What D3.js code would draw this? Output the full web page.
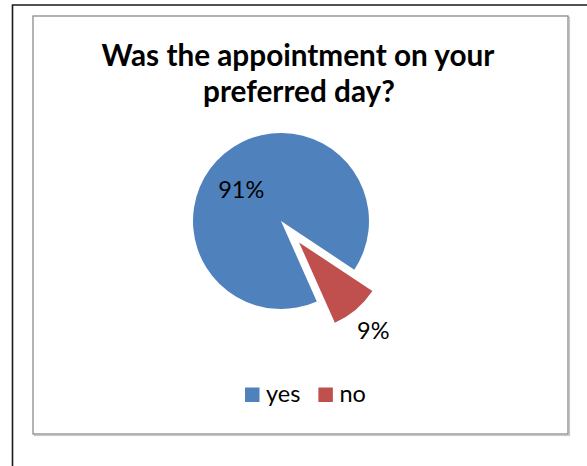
<!DOCTYPE html>
<html>
<head>
<meta charset="utf-8">
<script src="https://cdn.jsdelivr.net/npm/d3@7"></script>
<style>
  html, body { margin: 0; padding: 0; background: #ffffff; }
  svg { display: block; }
  text { font-family: Lato, "Open Sans", sans-serif; fill: #000; }
</style>
</head>
<body>
<svg id="chart" width="587" height="466"></svg>
<script>
// Survey answers
const categories = ["yes", "no"];
const values = [91, 9];
const valueLabels = ["91%", "9%"];
const titleLines = ["Was the appointment on your", "preferred day?"];
const colors = ["#4F81BD", "#C0504D"];

const svg = d3.select("#chart");
const W = 587, H = 466;

// outer page rule (left and top)
svg.append("path")
  .attr("d", `M12.5,${H} L12.5,5 L${W},5`)
  .attr("fill", "none")
  .attr("stroke", "#1a1a1a")
  .attr("stroke-width", 1.6);

// chart area frame with a soft shadow
const frame = { x: 33, y: 16, w: 535, h: 418 };
svg.append("rect")
  .attr("x", frame.x + 1.5).attr("y", frame.y + 1.5)
  .attr("width", frame.w).attr("height", frame.h)
  .attr("fill", "none").attr("stroke", "#c8c8c8").attr("stroke-width", 1.2);
svg.append("rect")
  .attr("x", frame.x).attr("y", frame.y)
  .attr("width", frame.w).attr("height", frame.h)
  .attr("fill", "#fff").attr("stroke", "#8a8a8a").attr("stroke-width", 1.3);

// title, two centred lines
const titleX = 298;
const title = svg.append("g");
const t1 = title.append("text")
  .attr("x", titleX).attr("y", 66)
  .attr("text-anchor", "middle")
  .style("font-weight", "bold").style("font-size", "24px")
  .text(titleLines[0]);
const fitSize = 24 * 393 / t1.node().getComputedTextLength();
t1.style("font-size", fitSize + "px");
title.append("text")
  .attr("x", titleX + 1).attr("y", 102)
  .attr("text-anchor", "middle")
  .style("font-weight", "bold").style("font-size", fitSize + "px")
  .text(titleLines[1]);

// pie
const cx = 281, cy = 221, radius = 88;
const startDeg = 156;
const explode = [0, 28];
const pie = d3.pie().sort(null)
  .startAngle(startDeg * Math.PI / 180)
  .endAngle(startDeg * Math.PI / 180 + 2 * Math.PI);
const arcs = pie(values);
const arc = d3.arc().innerRadius(0).outerRadius(radius);

const pieG = svg.append("g").attr("transform", `translate(${cx},${cy})`);
const mid = d => (d.startAngle + d.endAngle) / 2;
const offset = (d, r) => [Math.sin(mid(d)) * r, -Math.cos(mid(d)) * r];

pieG.selectAll("path.slice")
  .data(arcs)
  .join("path")
  .attr("class", "slice")
  .attr("d", arc)
  .attr("fill", (d, i) => colors[i])
  .attr("transform", (d, i) => {
    const [dx, dy] = offset(d, explode[i]);
    return `translate(${dx},${dy})`;
  });

// data labels: inside for the large slice, outside for the exploded one
const labelPos = [
  d => { const a = -51.3 * Math.PI / 180, r = 51; return [Math.sin(a) * r, -Math.cos(a) * r]; },
  d => offset(d, 143)
];
pieG.selectAll("text.lbl")
  .data(arcs)
  .join("text")
  .attr("class", "lbl")
  .attr("text-anchor", "middle")
  .attr("dominant-baseline", "central")
  .style("font-size", "23.5px")
  .attr("x", (d, i) => labelPos[i](d)[0])
  .attr("y", (d, i) => labelPos[i](d)[1])
  .text((d, i) => valueLabels[i]);

// legend
const legend = svg.append("g");
let lx = 245;
const ly = 387.5, sq = 14.5;
categories.forEach((c, i) => {
  legend.append("rect")
    .attr("x", lx).attr("y", ly)
    .attr("width", sq).attr("height", sq)
    .attr("fill", colors[i]);
  const t = legend.append("text")
    .attr("x", lx + sq + 6.5).attr("y", 402)
    .style("font-size", "23.5px")
    .text(c);
  lx += sq + 6.5 + t.node().getComputedTextLength() + 18;
});
</script>
</body>
</html>
